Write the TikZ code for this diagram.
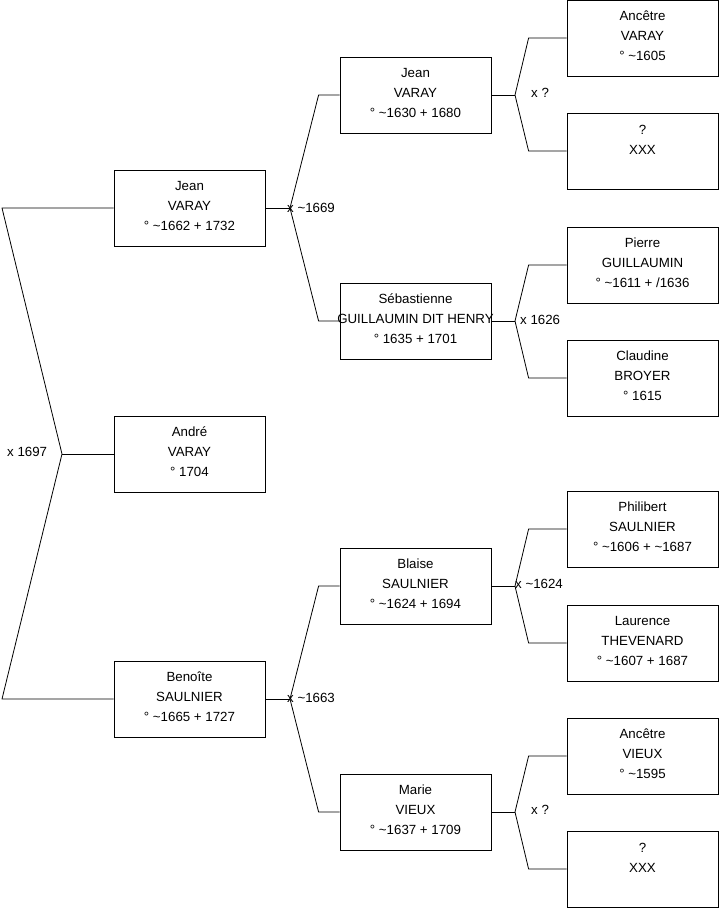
\documentclass[tikz,border=0pt]{standalone}
\usepackage{fontspec}
\setmainfont{Liberation Sans}
\newcommand\tl{\textasciitilde}
\begin{document}
\begin{tikzpicture}[x=1pt,y=-1pt,
  pbox/.style={draw=black,line width=0.8pt,minimum width=151pt,minimum height=76pt,inner sep=0pt},
  ptext/.style={align=center,inner sep=0pt,font=\fontsize{13.3}{20}\selectfont},
  mlabel/.style={anchor=west,inner sep=0pt,font=\fontsize{13.3}{15}\selectfont},
  conn/.style={draw=black,line width=0.8pt,line join=round}]
\useasboundingbox (0,0) rectangle (719,908);
\newcommand\pbox[4]{\node[pbox] (#1) at (#2,#3) {}; \node[ptext] at ([yshift=2pt]#1.center) {#4};}
\newcommand\qbox[3]{\node[pbox] (#1) at (#2,#3) {}; \node[ptext] at ([yshift=11pt]#1.center) {?\\XXX};}
% column 1
\pbox{jean1}{189.5}{208}{Jean\\VARAY\\° \tl1662 + 1732}
\pbox{andre}{189.5}{454}{André\\VARAY\\° 1704}
\pbox{benoite}{189.5}{699}{Benoîte\\SAULNIER\\° \tl1665 + 1727}
% column 2
\pbox{jean2}{415.5}{95}{Jean\\VARAY\\° \tl1630 + 1680}
\pbox{seb}{415.5}{321}{Sébastienne\\GUILLAUMIN DIT HENRY\\° 1635 + 1701}
\pbox{blaise}{415.5}{586}{Blaise\\SAULNIER\\° \tl1624 + 1694}
\pbox{marie}{415.5}{812}{Marie\\VIEUX\\° \tl1637 + 1709}
% column 3
\pbox{anc1}{642.5}{38}{Ancêtre\\VARAY\\° \tl1605}
\qbox{q1}{642.5}{151}
\pbox{pierre}{642.5}{265}{Pierre\\GUILLAUMIN\\° \tl1611 + /1636}
\pbox{claudine}{642.5}{378}{Claudine\\BROYER\\° 1615}
\pbox{phil}{642.5}{529}{Philibert\\SAULNIER\\° \tl1606 + \tl1687}
\pbox{laur}{642.5}{643}{Laurence\\THEVENARD\\° \tl1607 + 1687}
\pbox{anc2}{642.5}{756}{Ancêtre\\VIEUX\\° \tl1595}
\qbox{q2}{642.5}{869}
% fork points
\coordinate (x0) at (2,0);
\coordinate (f0) at (62,454);
\coordinate (f1) at (290,208);
\coordinate (f2) at (290,699);
\coordinate (f3) at (515,95);
\coordinate (f4) at (515,321);
\coordinate (f5) at (515,586);
\coordinate (f6) at (515,812);
% connectors
\draw[conn] (jean1.west) -- (jean1.west -| x0) -- (f0) -- (benoite.west -| x0) -- (benoite.west);
\draw[conn] (f0) -- (andre.west);
\foreach \p/\f/\a/\b/\k in {jean1/f1/jean2/seb/21, benoite/f2/blaise/marie/21, jean2/f3/anc1/q1/38, seb/f4/pierre/claudine/38, blaise/f5/phil/laur/38, marie/f6/anc2/q2/38}{
  \draw[conn] (\p.east) -- (\f);
  \draw[conn] (\f) -- ([xshift=-\k pt]\a.west) -- (\a.west);
  \draw[conn] (\f) -- ([xshift=-\k pt]\b.west) -- (\b.west);
}
% labels
\node[mlabel] (l0) at (7,452) {x 1697};
\node[mlabel] (l1) at (287,208) {x \tl1669};
\node[mlabel] (l2) at (287,698) {x \tl1663};
\node[mlabel] (l3) at (531,93) {x ?};
\node[mlabel] (l4) at (520,320) {x 1626};
\node[mlabel] (l5) at (515,584) {x \tl1624};
\node[mlabel] (l6) at (531,810) {x ?};
\end{tikzpicture}
\end{document}
